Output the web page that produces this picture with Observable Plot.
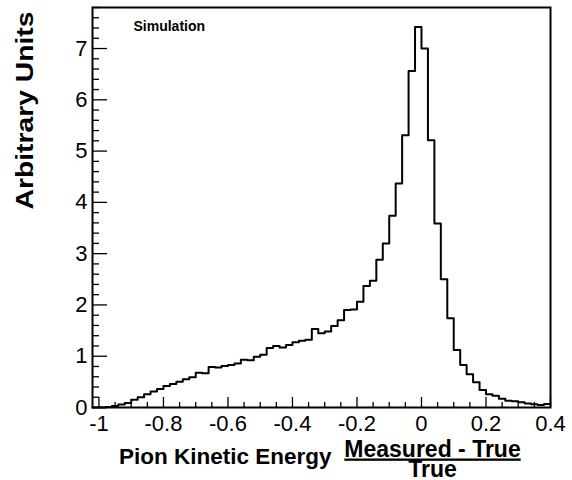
<!DOCTYPE html>
<html>
<head>
<meta charset="utf-8">
<script src="https://cdn.jsdelivr.net/npm/d3@7"></script>
<script src="https://cdn.jsdelivr.net/npm/@observablehq/plot@0.6"></script>
<style>
  html, body { margin: 0; padding: 0; background: #fff; }
</style>
</head>
<body>
<div id="chart"></div>
<script>
// Histogram: 71 bins of width 0.02 starting at -1.02
const binLow = -1.02;
const binWidth = 0.02;
const counts = [
  0, 0, 0.01, 0.03, 0.06, 0.09, 0.15, 0.20, 0.26, 0.31,
  0.36, 0.42, 0.46, 0.50, 0.55, 0.59, 0.68, 0.67, 0.79, 0.78,
  0.81, 0.83, 0.86, 0.93, 0.92, 0.99, 1.03, 1.16, 1.20, 1.17,
  1.22, 1.27, 1.30, 1.32, 1.53, 1.45, 1.48, 1.59, 1.70, 1.90,
  1.91, 2.06, 2.37, 2.47, 2.88, 3.20, 3.74, 4.37, 5.31, 6.56,
  7.42, 7.00, 5.21, 3.59, 2.50, 1.74, 1.12, 0.83, 0.65, 0.49,
  0.34, 0.26, 0.23, 0.17, 0.13, 0.12, 0.10, 0.08, 0.065, 0.05,
  0.07
];
const yMajor = [0, 1, 2, 3, 4, 5, 6, 7];
const xMajor = [-1, -0.8, -0.6, -0.4, -0.2, 0, 0.2, 0.4];
const xMajorLabels = ["-1", "-0.8", "-0.6", "-0.4", "-0.2", "0", "0.2", "0.4"];
const yTitle = "Arbitrary Units";
const xTitle = "Pion Kinetic Energy";
const fracTop = "Measured - True";
const fracBottom = "True";
const note = "Simulation";

// minor tick positions
const yMinor = d3.range(0, 40).map(i => Math.round(i * 2) / 10).filter(v => Math.abs(v - Math.round(v)) > 1e-6);
const xMinor = d3.range(0, 29).map(i => Math.round((-1 + i * 0.05) * 100) / 100)
  .filter(v => Math.abs(v * 5 - Math.round(v * 5)) > 1e-6);

const steps = counts.map((c, i) => ({x: binLow + i * binWidth, y: c}));
steps.push({x: binLow + counts.length * binWidth, y: counts[counts.length - 1]});

const font = "'Liberation Sans', Arial, Helvetica, sans-serif";

const plot = Plot.plot({
  width: 572,
  height: 480,
  marginLeft: 92,
  marginRight: 22,
  marginTop: 7,
  marginBottom: 73,
  style: {fontFamily: font, background: "white", color: "black", overflow: "visible"},
  x: {domain: [-1.02, 0.4]},
  y: {domain: [0, 7.8]},
  marks: [
    Plot.line(steps, {x: "x", y: "y", curve: "step-after", stroke: "black", strokeWidth: 2}),
    Plot.axisY(yMinor, {anchor: "left", tickSize: -7, fill: "none", label: null, strokeWidth: 1.3}),
    Plot.axisY(yMajor, {anchor: "left", tickSize: -15, tickPadding: 20, fontSize: 22, tickFormat: d => String(d), label: null, strokeWidth: 1.3}),
    Plot.axisX(xMinor, {anchor: "bottom", tickSize: -5, fill: "none", label: null, strokeWidth: 1.3}),
    Plot.axisX(xMajor, {anchor: "bottom", tickSize: -10, tickPadding: 18, fontSize: 22,
      tickFormat: d => xMajorLabels[xMajor.indexOf(d)], label: null, strokeWidth: 1.3}),
    Plot.frame({stroke: "black", strokeWidth: 2}),
    Plot.text([note], {text: d => d, frameAnchor: "top-left", dx: 41, dy: 23, textAnchor: "start", lineAnchor: "bottom", fontSize: 14, fontWeight: "bold"}),
    Plot.text([yTitle], {text: d => d, frameAnchor: "top-left", rotate: -90, dx: -60, dy: 4, textAnchor: "end", lineAnchor: "bottom", fontSize: 24, fontWeight: "bold"}),
    Plot.text([xTitle], {text: d => d, frameAnchor: "bottom-left", dx: 26.5, dy: 56, textAnchor: "start", lineAnchor: "bottom", fontSize: 22.5, fontWeight: "bold"}),
    Plot.text([fracTop + "\n" + fracBottom], {text: d => d, frameAnchor: "bottom-left", dx: 340, dy: 69, textAnchor: "middle", lineAnchor: "bottom", lineHeight: 0.87, fontSize: 23, fontWeight: "bold"})
  ]
});

const svg = d3.select(plot);
svg.selectAll("text").filter(function() { return this.textContent === yTitle; })
  .attr("textLength", 198).attr("lengthAdjust", "spacingAndGlyphs");
svg.selectAll("tspan").filter(function() { return this.textContent === fracTop; })
  .style("text-decoration", "underline");

document.getElementById("chart").appendChild(plot);
</script>
</body>
</html>
